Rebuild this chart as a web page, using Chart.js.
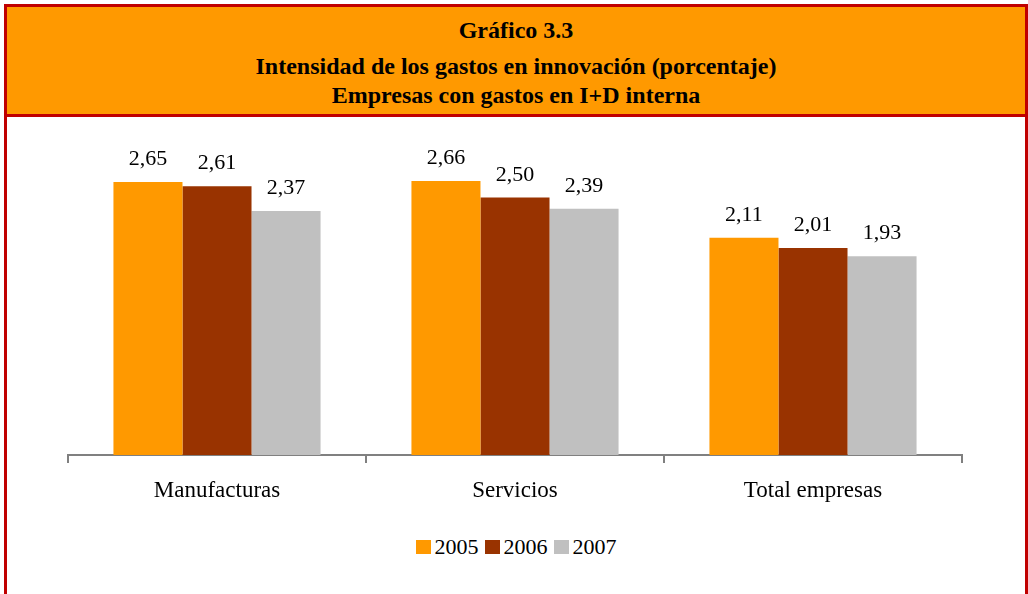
<!DOCTYPE html>
<html>
<head>
<meta charset="utf-8">
<script src="https://cdn.jsdelivr.net/npm/chart.js@4"></script>
<style>
  html, body { margin: 0; padding: 0; background: #fff; }
  body { width: 1028px; height: 594px; overflow: hidden; position: relative; font-family: "Liberation Serif", "Times New Roman", serif; }
  #frame { position: absolute; left: 4px; top: 4px; width: 1018px; height: 700px;
           border: 3px solid #c00000; border-bottom: none; }
  #head { height: 107px; background: #ff9900; border-bottom: 3px solid #c00000;
          text-align: center; font-weight: bold; font-size: 24px; color: #000; position: relative; }
  #head div { position: absolute; left: 0; right: 0; line-height: 28px; }
  #chartBox { position: absolute; left: 0; top: 110px; width: 1018px; height: 410px; }
  #legend { position: absolute; left: 0; right: 0; top: 527px; display: flex; justify-content: center;
            font-size: 22px; }
  .lg-item { display: flex; align-items: center; margin: 0 3px; }
  .lg-box { width: 15px; height: 14px; margin-right: 4px; }
</style>
</head>
<body>
<div id="frame">
  <div id="head">
    <div style="top:9px">Gráfico 3.3</div>
    <div style="top:45px">Intensidad de los gastos en innovación (porcentaje)</div>
    <div style="top:74px">Empresas con gastos en I+D interna</div>
  </div>
  <div id="chartBox"><canvas id="c" width="1018" height="410"></canvas></div>
  <div id="legend"></div>
</div>
<script>
// data
const categories = ['Manufacturas', 'Servicios', 'Total empresas'];
const years = ['2005', '2006', '2007'];
const values2005 = [2.65, 2.66, 2.11];
const values2006 = [2.61, 2.50, 2.01];
const values2007 = [2.37, 2.39, 1.93];
const colors = ['#ff9900', '#993300', '#c0c0c0'];

const FONT = { family: '"Liberation Serif", "Times New Roman", serif', size: 23 };
const VALUE_FONT = { family: FONT.family, size: 22 };
const fmt = (v) => v.toFixed(2).replace('.', ',');

// value labels above each bar
const barLabels = {
  id: 'barLabels',
  afterDatasetsDraw(chart) {
    const ctx = chart.ctx;
    ctx.save();
    ctx.font = `${VALUE_FONT.size}px ${VALUE_FONT.family}`;
    ctx.fillStyle = '#000';
    ctx.textAlign = 'center';
    ctx.textBaseline = 'alphabetic';
    chart.data.datasets.forEach((ds, i) => {
      chart.getDatasetMeta(i).data.forEach((bar, j) => {
        ctx.fillText(fmt(ds.data[j]), bar.x, bar.y - 17);
      });
    });
    ctx.restore();
  }
};

const seriesData = [values2005, values2006, values2007];

new Chart(document.getElementById('c'), {
  type: 'bar',
  data: {
    labels: categories,
    datasets: years.map((y, i) => ({
      label: y,
      data: seriesData[i],
      backgroundColor: colors[i],
      borderWidth: 0,
      categoryPercentage: 0.695,
      barPercentage: 1.0,
    })),
  },
  options: {
    responsive: false,
    animation: false,
    events: [],
    layout: { padding: { left: 61, right: 63, top: 29, bottom: 10 } },
    plugins: { legend: { display: false }, tooltip: { enabled: false } },
    scales: {
      y: { display: false, min: 0, max: 3 },
      x: {
        grid: { drawOnChartArea: false, drawTicks: true, tickLength: 8, color: '#808080', lineWidth: 2 },
        border: { color: '#808080', width: 2 },
        ticks: { font: FONT, color: '#000', padding: 14 },
        afterFit: (s) => { s.height = 62; },
      },
    },
  },
  plugins: [barLabels],
});

// legend
const lg = document.getElementById('legend');
years.forEach((y, i) => {
  const it = document.createElement('div');
  it.className = 'lg-item';
  it.innerHTML = `<span class="lg-box" style="background:${colors[i]}"></span><span>${y}</span>`;
  lg.appendChild(it);
});
</script>
</body>
</html>
